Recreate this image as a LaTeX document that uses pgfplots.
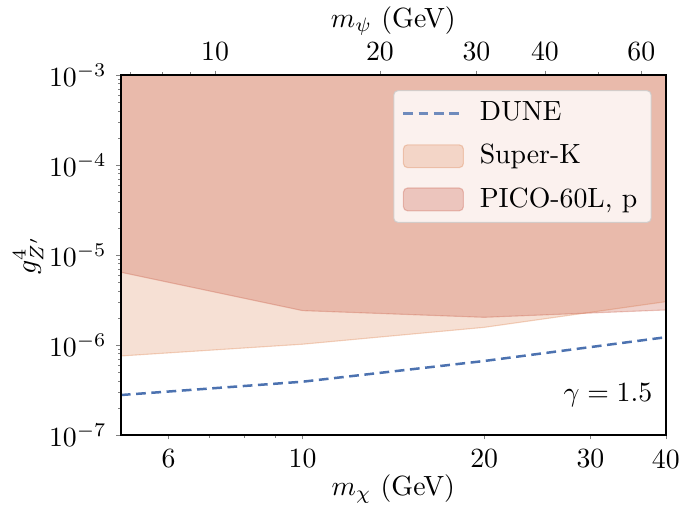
\documentclass[border=0pt]{standalone}
\usepackage{pgfplots}
\pgfplotsset{compat=1.18}

\definecolor{duneblue}{HTML}{4C72B0}
\definecolor{skorange}{HTML}{DD8452}
\definecolor{picored}{HTML}{CA624E}

\pgfplotsset{
  lineleg/.style={legend image code/.code={\draw[##1] (0pt,0pt) -- (21.6pt,0pt);
    \path[draw=none, fill=none] (0pt,0pt) -- (25.5pt,0pt);}},
  arealeg/.style={legend image code/.code={\draw[##1] (0pt,-4.1pt) rectangle (21.6pt,4.1pt);
    \path[draw=none, fill=none] (0pt,0pt) -- (25.5pt,0pt);}},
}

\begin{document}
\begin{tikzpicture}
\begin{axis}[
  at={(0,0)}, anchor=south west,
  scale only axis, width=196.2pt, height=129.6pt,
  xmode=log, ymode=log,
  xmin=5, xmax=40, ymin=1e-7, ymax=1e-3,
  xtick={6,10,20,30,40}, xticklabels={6,10,20,30,40},
  minor xtick={7,8,9},
  xtick pos=left, ytick pos=left,
  tick align=outside,
  major tick length=1.6pt, minor tick length=1pt,
  axis line style={line width=0.55pt},
  xlabel={$m_\chi$ (GeV)},
  xlabel style={at={(axis description cs:0.5,-0.1497)}, anchor=center},
  ylabel={$g_{Z'}^4$},
  ylabel style={at={(axis description cs:-0.17,0.5)}, anchor=center},
  axis on top,
  legend cell align=left,
  legend style={at={(rel axis cs:0.974,0.958)}, anchor=north east,
    fill=white, fill opacity=0.8, draw=black!20, draw opacity=0.8,
    text opacity=1, rounded corners=1.5pt, row sep=3pt},
]
% DUNE projection
\addplot[duneblue, line width=0.9pt, dash pattern=on 3.5pt off 2pt, forget plot]
  coordinates {(5,2.78e-7) (10,3.91e-7) (20,6.64e-7) (40,1.22e-6)};
% Super-K excluded region
\addplot[draw=none, fill=skorange, fill opacity=0.25, forget plot]
  coordinates {(5,7.55e-7) (10,1.02e-6) (20,1.57e-6) (40,3.03e-6) (40,2e-3) (5,2e-3)} -- cycle;
\addplot[skorange, opacity=0.35, line width=0.4pt, forget plot]
  coordinates {(5,7.55e-7) (10,1.02e-6) (20,1.57e-6) (40,3.03e-6)};
% PICO-60L excluded region
\addplot[draw=none, fill=picored, fill opacity=0.3, forget plot]
  coordinates {(5,6.43e-6) (10,2.41e-6) (20,2.03e-6) (40,2.45e-6) (40,2e-3) (5,2e-3)} -- cycle;
\addplot[picored, opacity=0.35, line width=0.4pt, forget plot]
  coordinates {(5,6.43e-6) (10,2.41e-6) (20,2.03e-6) (40,2.45e-6)};

\addlegendimage{lineleg, duneblue, line width=0.9pt, dash pattern=on 3.5pt off 2pt}
\addlegendentry{DUNE}
\addlegendimage{arealeg, fill=skorange, fill opacity=0.25, draw=skorange, draw opacity=0.35}
\addlegendentry{Super-K}
\addlegendimage{arealeg, fill=picored, fill opacity=0.3, draw=picored, draw opacity=0.35}
\addlegendentry{PICO-60L, p}

\node[anchor=base east, inner sep=0pt] at (rel axis cs:0.976,0.094) {$\gamma = 1.5$};
\end{axis}

% top axis: m_psi
\begin{axis}[
  at={(0,0)}, anchor=south west,
  scale only axis, width=196.2pt, height=129.6pt,
  xmode=log, xmin=6.73, xmax=66.5, ymin=0, ymax=1,
  axis x line*=top, axis y line=none,
  xtick={10,20,30,40,60}, xticklabels={10,20,30,40,60},
  minor xtick={7,8,9,50},
  tick align=outside,
  major tick length=1.6pt, minor tick length=1pt,
  axis line style={line width=0.55pt},
  xlabel={$m_\psi$ (GeV)},
  xlabel style={at={(axis description cs:0.5,1.1497)}, anchor=center},
]
\end{axis}

\pgfresetboundingbox
\useasboundingbox (-43.5pt,-25.2pt) rectangle (201.3pt,156.6pt);
\end{tikzpicture}
\end{document}
